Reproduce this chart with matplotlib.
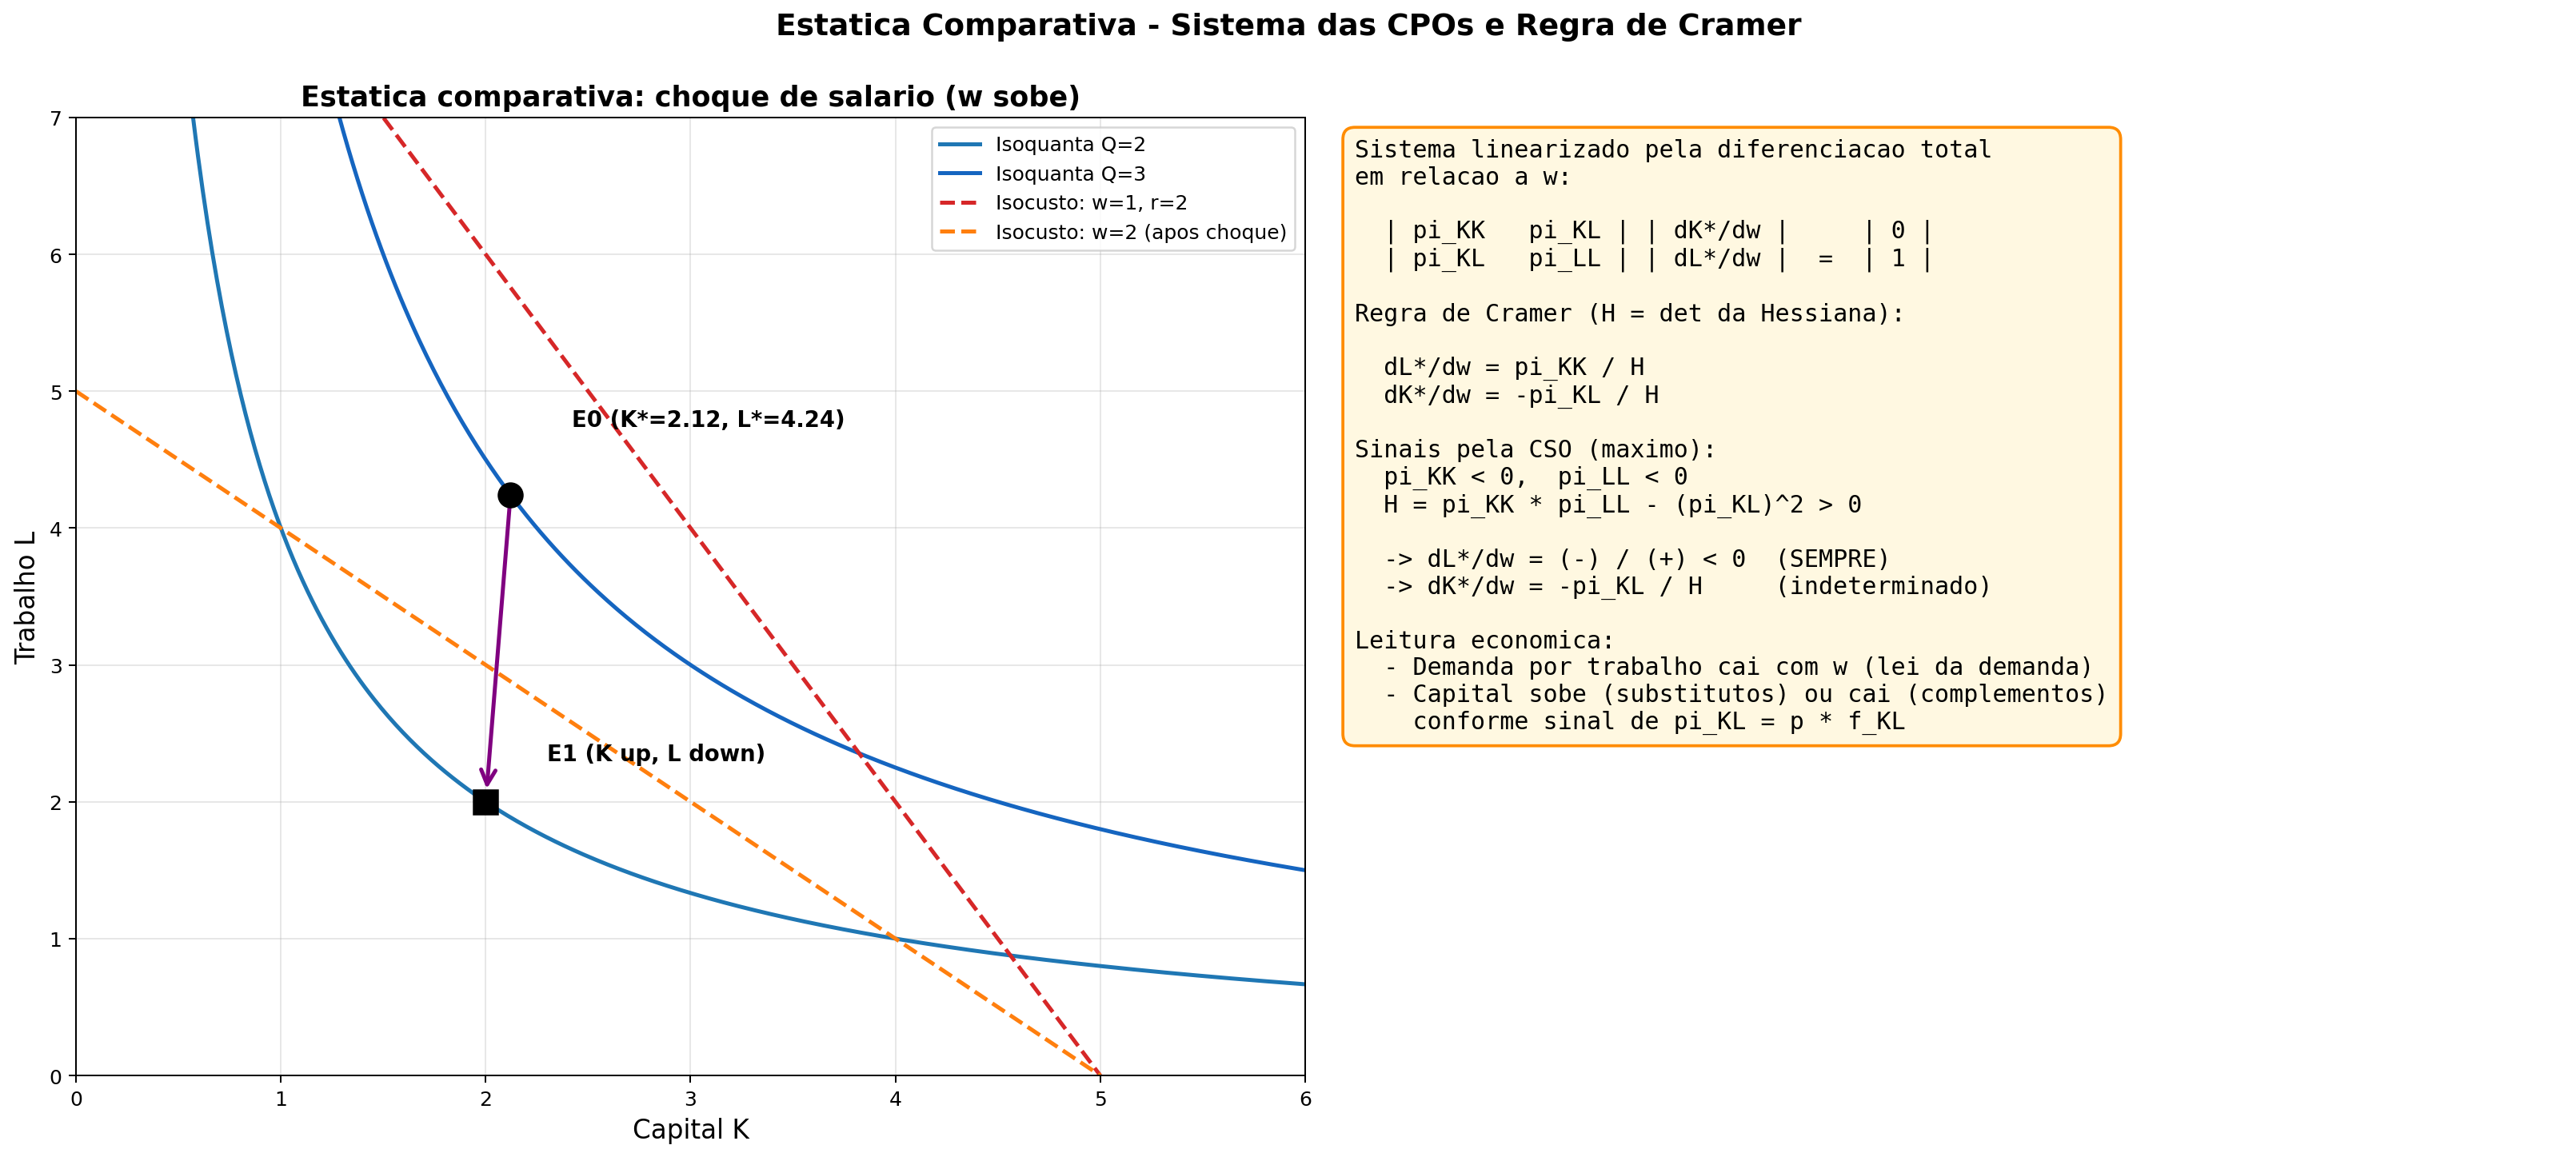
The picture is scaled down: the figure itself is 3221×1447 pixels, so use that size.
import numpy as np
import matplotlib
matplotlib.use("Agg")
import matplotlib.pyplot as plt

# isoquantas Q = sqrt(K*L)  ->  L = Q^2 / K
q_levels = [2, 3]
q_colors = ["#1f77b4", "#1565c0"]

# isocustos w*L + r*K = C
cost_total = 10.0
rent = 2.0
wages = [1.0, 2.0]
cost_labels = ["Isocusto: w=1, r=2", "Isocusto: w=2 (apos choque)"]
cost_colors = ["#d62728", "#ff7f0e"]

# equilibrios
eq_K = [2.121, 2.0]
eq_L = [4.243, 2.0]
eq_labels = ["E0 (K*=2.12, L*=4.24)", "E1 (K up, L down)"]
eq_markers = ["o", "s"]

x_ticks = [0, 1, 2, 3, 4, 5, 6]
y_ticks = [0, 1, 2, 3, 4, 5, 6, 7]

box_lines = [
    "Sistema linearizado pela diferenciacao total",
    "em relacao a w:",
    "",
    "  | pi_KK   pi_KL | | dK*/dw |     | 0 |",
    "  | pi_KL   pi_LL | | dL*/dw |  =  | 1 |",
    "",
    "Regra de Cramer (H = det da Hessiana):",
    "",
    "  dL*/dw = pi_KK / H",
    "  dK*/dw = -pi_KL / H",
    "",
    "Sinais pela CSO (maximo):",
    "  pi_KK < 0,  pi_LL < 0",
    "  H = pi_KK * pi_LL - (pi_KL)^2 > 0",
    "",
    "  -> dL*/dw = (-) / (+) < 0  (SEMPRE)",
    "  -> dK*/dw = -pi_KL / H     (indeterminado)",
    "",
    "Leitura economica:",
    "  - Demanda por trabalho cai com w (lei da demanda)",
    "  - Capital sobe (substitutos) ou cai (complementos)",
    "    conforme sinal de pi_KL = p * f_KL",
]

fig = plt.figure(figsize=(17.9, 8.0444), dpi=180)
ax = fig.add_axes([0.0295, 0.0704, 0.477, 0.8274])

K = np.linspace(0.2, 6, 500)
for q, c in zip(q_levels, q_colors):
    ax.plot(K, q**2 / K, color=c, lw=2, label=f"Isoquanta Q={q}")

for w, lab, c in zip(wages, cost_labels, cost_colors):
    kk = np.array([0.0, cost_total / rent])
    ax.plot(kk, (cost_total - rent * kk) / w, "--", color=c, lw=2, label=lab)

for k, l, m in zip(eq_K, eq_L, eq_markers):
    ax.plot(k, l, m, color="black", markersize=12, zorder=5)

# seta E0 -> E1 (por baixo dos marcadores)
ax.annotate("", xy=(eq_K[1], eq_L[1]), xytext=(eq_K[0], eq_L[0]),
            arrowprops=dict(arrowstyle="->", color="purple", lw=2,
                            shrinkA=2, shrinkB=6.5, mutation_scale=18), zorder=4)
for k, l, lab in zip(eq_K, eq_L, eq_labels):
    dy = 0.5 if lab.startswith("E0") else 0.3
    ax.annotate(lab, xy=(k, l), xytext=(k + 0.3, l + dy),
                fontsize=11, fontweight="bold")

ax.set_xlim(0, 6)
ax.set_ylim(0, 7)
ax.set_xticks(x_ticks)
ax.set_yticks(y_ticks)
ax.set_xlabel("Capital K", fontsize=13)
ax.set_ylabel("Trabalho L", fontsize=13)
ax.set_title("Estatica comparativa: choque de salario (w sobe)", fontsize=14, fontweight="bold")
ax.legend(loc="upper right", fontsize=10)
ax.grid(alpha=0.3)

fig.text(0.5258, 0.8798, "\n".join(box_lines), family="monospace", fontsize=12,
         va="top", ha="left",
         bbox=dict(boxstyle="round,pad=0.5", facecolor="#fff8e1", edgecolor="darkorange", lw=1.5))

fig.suptitle("Estatica Comparativa - Sistema das CPOs e Regra de Cramer",
             fontsize=15, fontweight="bold", y=0.989)

fig.savefig("out.png", dpi=180)
